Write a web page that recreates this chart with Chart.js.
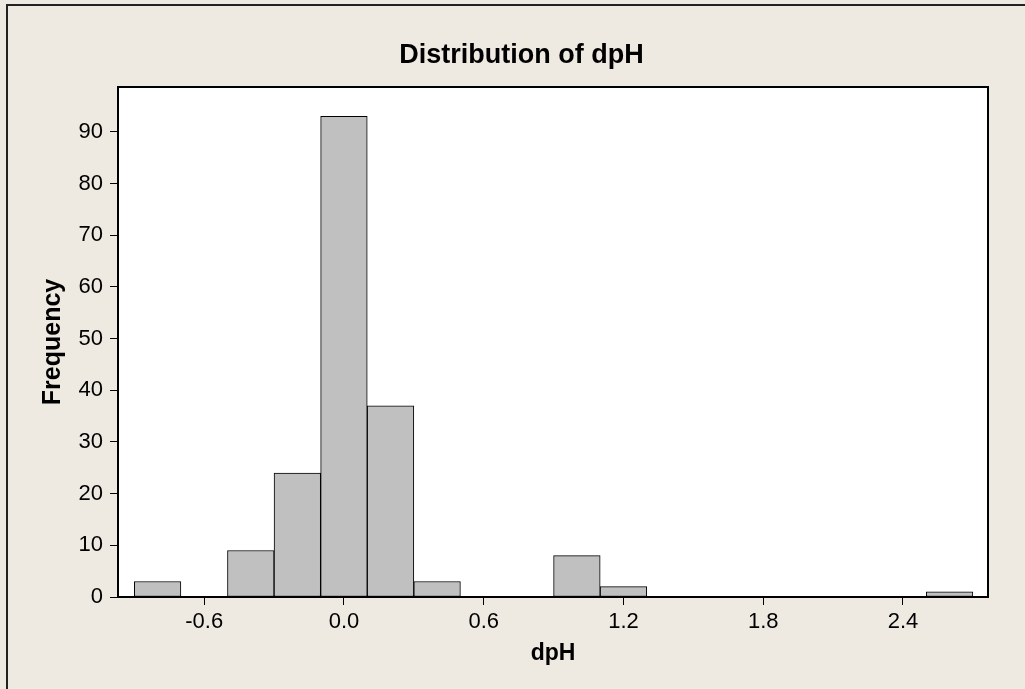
<!DOCTYPE html>
<html>
<head>
<meta charset="utf-8">
<title>Distribution of dpH</title>
<script src="https://cdn.jsdelivr.net/npm/chart.js@4.4.1/dist/chart.umd.min.js"></script>
<style>
  body { margin: 0; background: #eeeae1; overflow: hidden; }
  #frame {
    position: absolute; left: 6px; top: 4px; width: 1100px; height: 800px;
    border-left: 2px solid #222; border-top: 2px solid #222;
  }
  #dph { position: absolute; left: 0; top: 0; }
</style>
</head>
<body>
<div id="frame"></div>
<canvas id="dph" width="1025" height="689"></canvas>
<script>
// histogram bins (width 0.2) and their counts
const binCenters = [-0.8, -0.6, -0.4, -0.2, 0.0, 0.2, 0.4, 0.6, 0.8, 1.0, 1.2, 1.4, 1.6, 1.8, 2.0, 2.2, 2.4, 2.6];
const frequency = [3, 0, 9, 24, 93, 37, 3, 0, 0, 8, 2, 0, 0, 0, 0, 0, 0, 1];

const xTicks = [-0.6, 0.0, 0.6, 1.2, 1.8, 2.4];
const yTicks = [0, 10, 20, 30, 40, 50, 60, 70, 80, 90];
const xRange = [-0.97, 2.765];
const yRange = [0, 98.7];

Chart.defaults.font.family = "'Liberation Sans', Arial, sans-serif";
Chart.defaults.color = "#000";

// white plot area with a closed black frame round it
const plotFrame = {
  id: "plotFrame",
  beforeDraw(chart) {
    const a = chart.chartArea;
    const ctx = chart.ctx;
    ctx.save();
    ctx.fillStyle = "#fff";
    ctx.fillRect(a.left, a.top, a.right - a.left, a.bottom - a.top);
    ctx.restore();
  },
  afterDatasetsDraw(chart) {
    const a = chart.chartArea;
    const ctx = chart.ctx;
    ctx.save();
    ctx.strokeStyle = "#000";
    ctx.lineWidth = 2;
    ctx.strokeRect(a.left, a.top, a.right - a.left, a.bottom - a.top);
    ctx.restore();
  },
};

const dphChart = new Chart(document.getElementById("dph"), {
  type: "bar",
  data: {
    datasets: [
      {
        data: binCenters.map((c, i) => ({ x: c, y: frequency[i] })),
        backgroundColor: "#c0c0c0",
        borderColor: "#000",
        borderWidth: 1,
        borderSkipped: false,
        barPercentage: 1,
        categoryPercentage: 1,
      },
    ],
  },
  options: {
    responsive: false,
    animation: false,
    layout: { padding: { left: 55, right: 37, top: 0, bottom: 0 } },
    plugins: {
      legend: { display: false },
      tooltip: { enabled: false },
      title: {
        display: true,
        text: "Distribution of dpH",
        color: "#000",
        font: { size: 27, weight: "bold" },
        padding: { top: 39, bottom: 15.6 },
      },
    },
    scales: {
      x: {
        type: "linear",
        min: xRange[0],
        max: xRange[1],
        offset: false,
        grid: { offset: false, drawOnChartArea: false, tickLength: 8, color: "#000" },
        border: { display: false },
        ticks: {
          color: "#000",
          font: { size: 22 },
          padding: 4,
          maxRotation: 0,
          autoSkip: false,
          callback: (v) => Number(v).toFixed(1),
        },
        afterBuildTicks: (scale) => {
          scale.ticks = xTicks.map((v) => ({ value: v }));
        },
        afterFit: (scale) => {
          scale.height = 92;
        },
        title: {
          display: true,
          text: "dpH",
          color: "#000",
          font: { size: 23, weight: "bold" },
          padding: { top: 0, bottom: 22 },
        },
      },
      y: {
        min: yRange[0],
        max: yRange[1],
        grid: { drawOnChartArea: false, tickLength: 8, color: "#000" },
        border: { display: false },
        ticks: { color: "#000", font: { size: 22 }, padding: 7 },
        afterBuildTicks: (scale) => {
          scale.ticks = yTicks.map((v) => ({ value: v }));
        },
        afterFit: (scale) => {
          scale.width = 63;
        },
        title: {
          display: true,
          text: "Frequency",
          color: "#000",
          font: { size: 25, weight: "bold" },
          padding: { top: -17, bottom: 0 },
        },
      },
    },
  },
  plugins: [plotFrame],
});
</script>
</body>
</html>
